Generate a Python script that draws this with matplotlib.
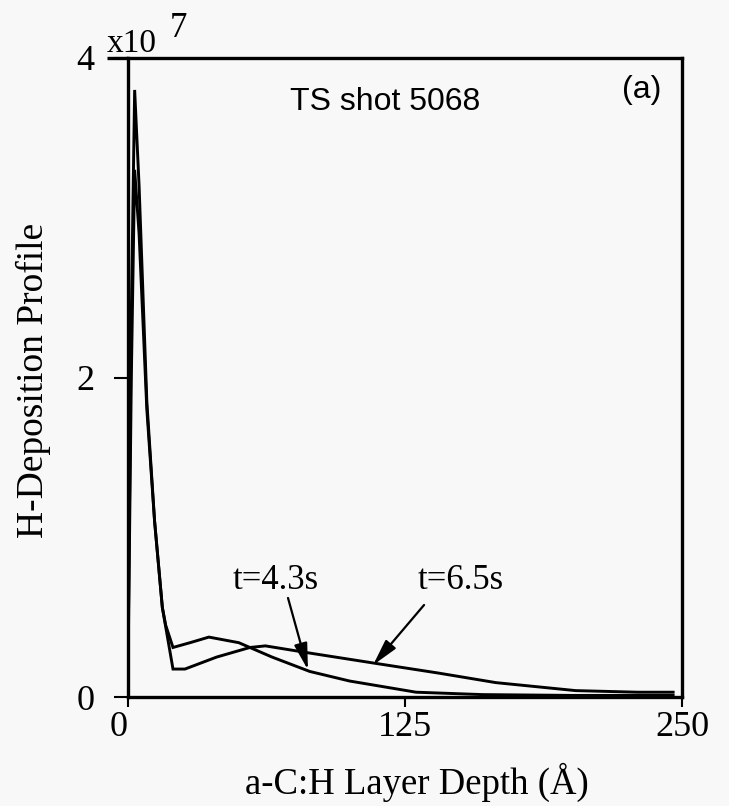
import matplotlib
matplotlib.use("Agg")
import matplotlib.pyplot as plt
from matplotlib.transforms import ScaledTranslation

# Depth (Angstrom) and H-deposition profile (units of 1e7)
depth_43 = [0, 1.5, 3, 5, 8.5, 12, 15.5, 17, 20.3, 28, 36.5, 50, 65, 82, 100, 130, 160, 200, 246]
prof_43 = [0.15, 2.0, 3.3, 2.9, 1.8, 1.1, 0.56, 0.45, 0.31, 0.34, 0.375, 0.34, 0.25, 0.16, 0.10, 0.03, 0.015, 0.01, 0.01]

depth_65 = [0, 1.5, 3, 5, 8.5, 12, 15.5, 17, 20.3, 25.7, 40, 55, 62, 82, 112, 140, 166, 202, 230, 246]
prof_65 = [0.2, 2.4, 3.8, 3.2, 1.85, 1.1, 0.56, 0.44, 0.175, 0.175, 0.25, 0.31, 0.32, 0.275, 0.21, 0.15, 0.09, 0.04, 0.03, 0.03]

xticks = [0, 125, 250]
yticks = [0, 2, 4]
xlabel = "a-C:H Layer Depth (Å)"
ylabel = "H-Deposition Profile"
title_text = "TS shot 5068"
panel_text = "(a)"

serif = ["Liberation Serif", "DejaVu Serif"]
sans = ["Liberation Sans", "DejaVu Sans"]
bg = "#f8f8f8"
W, H = 729, 806

fig = plt.figure(figsize=(W / 100, H / 100), dpi=100, facecolor=bg)
ax = fig.add_axes([128 / W, 1 - 697 / H, 554 / W, 639 / H], facecolor=bg)

ax.plot(depth_43, prof_43, color="black", lw=2.1, solid_joinstyle="miter")
ax.plot(depth_65, prof_65, color="black", lw=2.1, solid_joinstyle="miter")

ax.set_xlim(0, 250)
ax.set_ylim(0, 4)
ax.set_xticks(xticks)
ax.set_yticks(yticks)
ax.set_xticklabels([str(v) for v in xticks], fontfamily=serif, fontsize=26)
ax.set_yticklabels([str(v) for v in yticks], fontfamily=serif, fontsize=26)
ax.tick_params(axis="x", direction="out", length=7, width=1.5, pad=3)
ax.tick_params(axis="y", direction="out", length=10, width=1.5, pad=14)
for s in ax.spines.values():
    s.set_linewidth(2.4)

# the origin label sits a little left of its tick
zero_lbl = ax.get_xticklabels()[0]
zero_lbl.set_transform(zero_lbl.get_transform()
                       + ScaledTranslation(-9 / 100, 0, fig.dpi_scale_trans))

# Axis titles
fig.text(417 / W, 1 - 794 / H, xlabel, fontfamily=serif, fontsize=26.5,
         ha="center", va="baseline")
fig.text(33 / W, 1 - 380 / H, ylabel, fontfamily=serif, fontsize=27,
         rotation=90, ha="center", va="center")

# Exponent marker above the y axis
fig.text(107 / W, 1 - 52 / H, "x10", fontfamily=serif, fontsize=24,
         ha="left", va="baseline")
fig.text(170 / W, 1 - 37 / H, "7", fontfamily=serif, fontsize=25,
         ha="left", va="baseline")
ax.plot([-21 / 554 * 250, 0], [4, 4], color="black", lw=2.4,
        clip_on=False, solid_capstyle="butt")

fig.text(385 / W, 1 - 102 / H, title_text, fontfamily=sans, fontsize=23,
         ha="center", va="center")
fig.text(642 / W, 1 - 90 / H, panel_text, fontfamily=sans, fontsize=23,
         ha="center", va="center")

arrow = dict(arrowstyle="-|>,head_length=0.8,head_width=0.2", color="black",
             lw=1.6, shrinkA=0, shrinkB=0, mutation_scale=20)
ax.annotate("t=4.3s", xy=(72.2, 0.62), xytext=(66.8, 0.73),
            fontfamily=serif, fontsize=25, ha="center", va="center")
ax.annotate("", xy=(81.2, 0.17), xytext=(72.2, 0.62), arrowprops=arrow)
ax.annotate("t=6.5s", xy=(150, 0.73), xytext=(150, 0.73),
            fontfamily=serif, fontsize=25, ha="center", va="center")
ax.annotate("", xy=(110.6, 0.20), xytext=(133.6, 0.576), arrowprops=arrow)

fig.savefig("out.png", dpi=100, facecolor=bg)
